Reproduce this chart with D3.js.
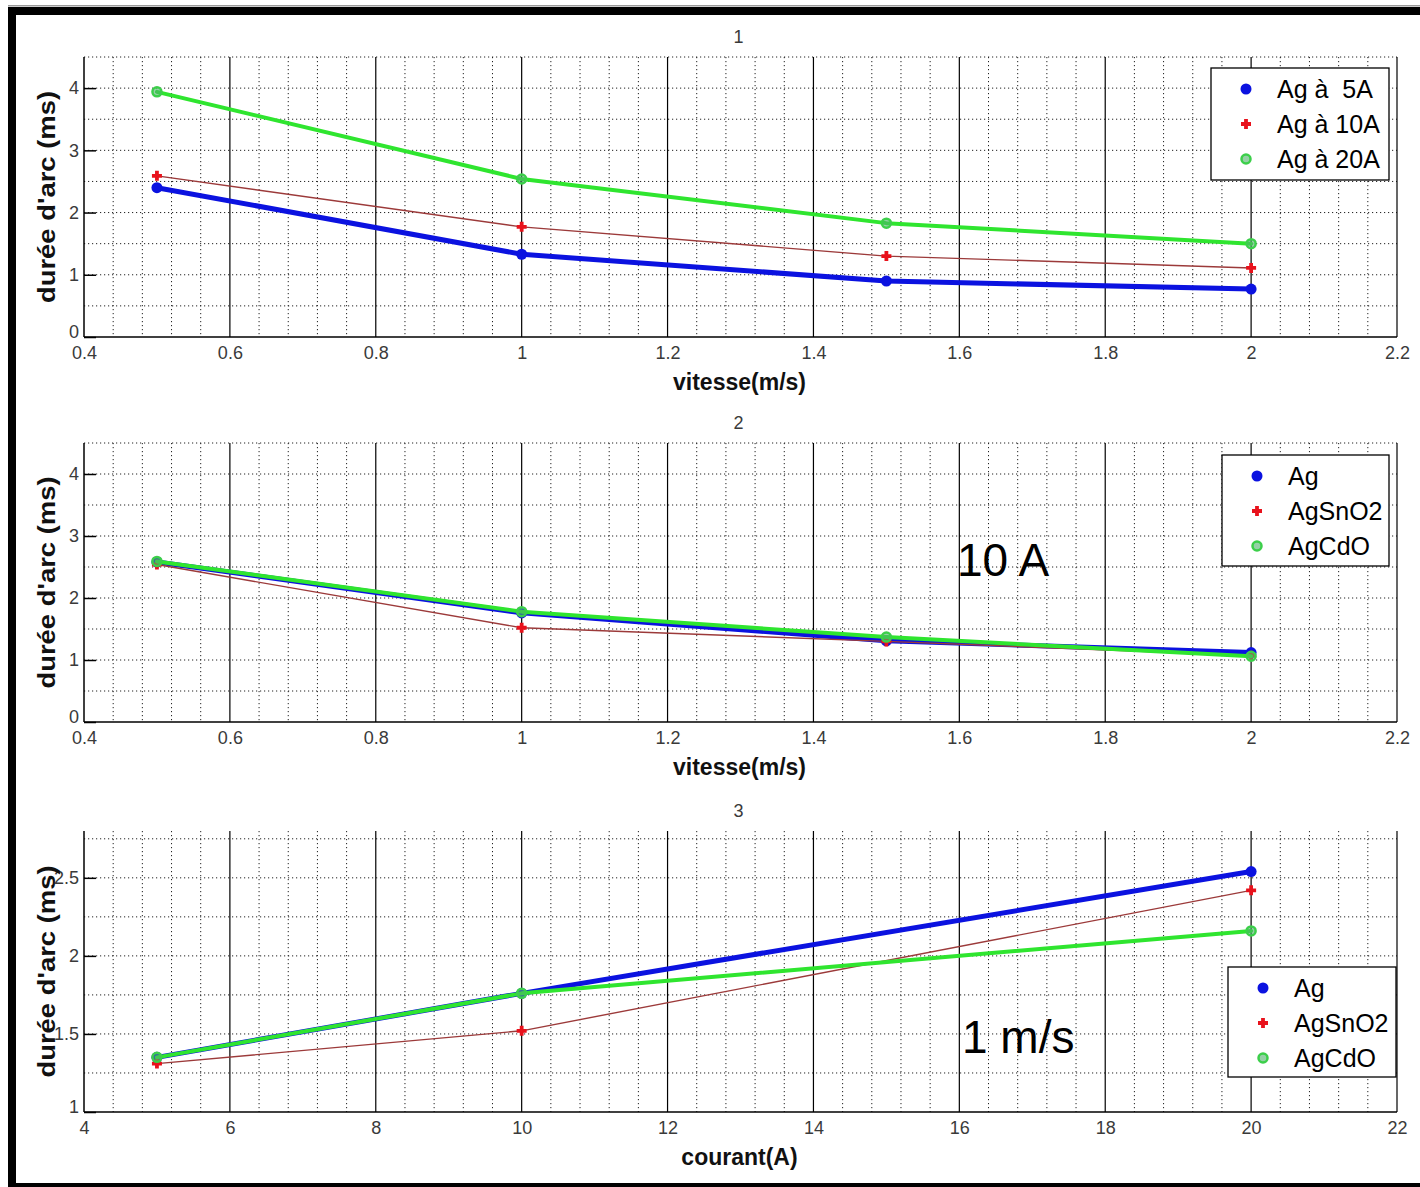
<!DOCTYPE html>
<html>
<head>
<meta charset="utf-8">
<script src="https://cdn.jsdelivr.net/npm/d3@7"></script>
<style>
  body { margin: 0; background: #fff; }
  svg { display: block; }
</style>
</head>
<body>
<svg id="fig" width="1420" height="1187"></svg>
<script>
// ---- measured arc durations (ms) ----
const speed   = [0.5, 1, 1.5, 2];        // m/s
const current = [5, 10, 20];             // A

// panel 1 : silver at three currents, versus speed
const agAt5A  = [2.40, 1.33, 0.90, 0.77];
const agAt10A = [2.59, 1.77, 1.30, 1.11];
const agAt20A = [3.94, 2.54, 1.83, 1.50];

// panel 2 : three contact materials at 10 A, versus speed
const agBySpeed     = [2.58, 1.76, 1.31, 1.12];
const agSnO2BySpeed = [2.54, 1.52, 1.30, 1.07];
const agCdOBySpeed  = [2.59, 1.78, 1.37, 1.06];

// panel 3 : three contact materials at 1 m/s, versus current
const agByCurrent     = [1.35, 1.76, 2.54];
const agSnO2ByCurrent = [1.31, 1.52, 2.42];
const agCdOByCurrent  = [1.35, 1.76, 2.16];

// ---- tick labels and texts ----
const speedTicks    = [0.4, 0.6, 0.8, 1, 1.2, 1.4, 1.6, 1.8, 2, 2.2];
const currentTicks  = [4, 6, 8, 10, 12, 14, 16, 18, 20, 22];
const durationTicks = [0, 1, 2, 3, 4];
const durationTicksFine = [1, 1.5, 2, 2.5];
const legendCurrents  = ["Ag à  5A", "Ag à 10A", "Ag à 20A"];
const legendMaterials = ["Ag", "AgSnO2", "AgCdO"];
const panelTitles = ["1", "2", "3"];
const xTitles = ["vitesse(m/s)", "vitesse(m/s)", "courant(A)"];
const yTitle = "durée d'arc (ms)";
const notes = ["", "10 A", "1 m/s"];

// ---- styling of the three series (blue, red, green) ----
const styles = [
  { line: "#0b12e0", width: 5,   marker: "dot",  mcolor: "#0b12e0" },
  { line: "#9c3a3a", width: 1.4, marker: "plus", mcolor: "#e8121c" },
  { line: "#2fe52f", width: 4,   marker: "ring", mcolor: "#3ccf4a" }
];

const svg = d3.select("#fig");
const FONT = "'Liberation Sans', Arial, Helvetica, sans-serif";

// outer black frame
svg.append("rect").attr("x", 8).attr("y", 5).attr("width", 1412).attr("height", 1.5).attr("fill", "#999");
svg.append("rect").attr("x", 8).attr("y", 7).attr("width", 1412).attr("height", 8).attr("fill", "#000");
svg.append("rect").attr("x", 8).attr("y", 7).attr("width", 8).attr("height", 1180).attr("fill", "#000");
svg.append("rect").attr("x", 8).attr("y", 1183).attr("width", 1412).attr("height", 4).attr("fill", "#000");

const panels = [
  { top: 57, bottom: 337, xDomain: [0.4, 2.2], yDomain: [0, 4.5],
    xTicks: speedTicks, yTicks: durationTicks, xMinor: 0.04, yMinor: 0.5,
    x: speed, series: [agAt5A, agAt10A, agAt20A], legend: legendCurrents,
    box: { x: 1211, y: 68, w: 178, h: 112 } },
  { top: 443, bottom: 722, xDomain: [0.4, 2.2], yDomain: [0, 4.5],
    xTicks: speedTicks, yTicks: durationTicks, xMinor: 0.04, yMinor: 0.5,
    x: speed, series: [agBySpeed, agSnO2BySpeed, agCdOBySpeed], legend: legendMaterials,
    box: { x: 1222, y: 455, w: 167, h: 111 }, note: { x: 957, y: 560 } },
  { top: 831, bottom: 1112, xDomain: [4, 22], yDomain: [1, 2.8],
    xTicks: currentTicks, yTicks: durationTicksFine, xMinor: 0.4, yMinor: 0.25,
    x: current, series: [agByCurrent, agSnO2ByCurrent, agCdOByCurrent], legend: legendMaterials,
    box: { x: 1228, y: 967, w: 168, h: 110 }, note: { x: 962, y: 1037 } }
];

const left = 84, right = 1397;
const fmt = d3.format("~g");

function drawMarker(g, kind, color, cx, cy) {
  if (kind === "dot") {
    g.append("circle").attr("cx", cx).attr("cy", cy).attr("r", 5.5).attr("fill", color);
  } else if (kind === "plus") {
    g.append("path")
      .attr("d", `M${cx - 5},${cy}H${cx + 5}M${cx},${cy - 5}V${cy + 5}`)
      .attr("stroke", color).attr("stroke-width", 3.8).attr("fill", "none");
  } else {
    g.append("circle").attr("cx", cx).attr("cy", cy).attr("r", 4.5)
      .attr("fill", "#4fb06a").attr("fill-opacity", 0.6)
      .attr("stroke", color).attr("stroke-width", 2.5);
  }
}

panels.forEach((p, k) => {
  const g = svg.append("g");
  const x = d3.scaleLinear().domain(p.xDomain).range([left, right]);
  const y = d3.scaleLinear().domain(p.yDomain).range([p.bottom, p.top]);

  const near = (a, arr) => arr.some(b => Math.abs(a - b) < 1e-6);
  const xMinor = d3.range(p.xDomain[0], p.xDomain[1] + 1e-9, p.xMinor).map(v => +v.toFixed(6));
  const yMinor = d3.range(p.yDomain[0], p.yDomain[1] + 1e-9, p.yMinor).map(v => +v.toFixed(6));

  // dotted horizontal grid (every minor step, top edge included)
  g.selectAll(".hgrid").data(yMinor.filter(v => v > p.yDomain[0])).join("line")
    .attr("x1", left).attr("x2", right)
    .attr("y1", d => y(d)).attr("y2", d => y(d))
    .attr("stroke", "#222").attr("stroke-width", 1).attr("stroke-dasharray", "1.2,2.8");

  // dotted vertical minor grid
  g.selectAll(".vminor").data(xMinor.filter(v => !near(v, p.xTicks))).join("line")
    .attr("x1", d => x(d)).attr("x2", d => x(d))
    .attr("y1", p.top).attr("y2", p.bottom)
    .attr("stroke", "#222").attr("stroke-width", 1).attr("stroke-dasharray", "1.2,2.8");

  // solid vertical major grid
  g.selectAll(".vmajor").data(p.xTicks.slice(1)).join("line")
    .attr("x1", d => x(d)).attr("x2", d => x(d))
    .attr("y1", p.top).attr("y2", p.bottom)
    .attr("stroke", "#000").attr("stroke-width", 1.2);

  // axis lines
  g.append("line").attr("x1", left).attr("x2", left).attr("y1", p.top).attr("y2", p.bottom)
    .attr("stroke", "#000").attr("stroke-width", 1.5);
  g.append("line").attr("x1", left).attr("x2", right).attr("y1", p.bottom).attr("y2", p.bottom)
    .attr("stroke", "#000").attr("stroke-width", 1.5);

  // tick labels through d3 axes
  const xa = g.append("g").attr("transform", `translate(0,${p.bottom})`)
    .call(d3.axisBottom(x).tickValues(p.xTicks).tickFormat(fmt).tickSize(0).tickPadding(9));
  const ya = g.append("g").attr("transform", `translate(${left},0)`)
    .call(d3.axisLeft(y).tickValues(p.yTicks).tickFormat(fmt).tickSizeInner(-12).tickSizeOuter(0).tickPadding(5));
  [xa, ya].forEach(a => {
    a.select(".domain").remove();
    a.selectAll("text").attr("font-family", FONT).attr("font-size", 18).attr("fill", "#3a3a3a");
    a.selectAll("line").attr("stroke", "#000").attr("stroke-width", 1.5);
  });
  // the lowest y label sits slightly raised, clear of the first x label
  ya.selectAll("text").filter(d => d === p.yDomain[0]).attr("dy", "0.05em");

  // series: lines then markers
  p.series.forEach((vals, i) => {
    const st = styles[i];
    const line = d3.line().x((d, j) => x(p.x[j])).y(d => y(d));
    g.append("path").datum(vals).attr("d", line)
      .attr("fill", "none").attr("stroke", st.line).attr("stroke-width", st.width)
      .attr("stroke-linejoin", "round").attr("stroke-linecap", "round");
    vals.forEach((v, j) => drawMarker(g, st.marker, st.mcolor, x(p.x[j]), y(v)));
  });

  // title
  g.append("text").attr("x", (left + right) / 2 - 2).attr("y", p.top - 20)
    .attr("text-anchor", "middle").attr("dominant-baseline", "central")
    .attr("font-family", FONT).attr("font-size", 18).attr("fill", "#3a3a3a")
    .text(panelTitles[k]);

  // axis titles
  g.append("text").attr("x", (left + right) / 2 - 1).attr("y", p.bottom + 45)
    .attr("text-anchor", "middle").attr("dominant-baseline", "central")
    .attr("font-family", FONT).attr("font-size", 23).attr("font-weight", "bold").attr("fill", "#111")
    .text(xTitles[k]);
  g.append("text")
    .attr("transform", `translate(46,${(p.top + p.bottom) / 2}) rotate(-90)`)
    .attr("text-anchor", "middle").attr("dominant-baseline", "central")
    .attr("font-family", FONT).attr("font-size", 24).attr("font-weight", "bold").attr("fill", "#111")
    .attr("textLength", 212).attr("lengthAdjust", "spacingAndGlyphs")
    .text(yTitle);

  // legend
  const b = p.box;
  g.append("rect").attr("x", b.x).attr("y", b.y).attr("width", b.w).attr("height", b.h)
    .attr("fill", "#fff").attr("stroke", "#000").attr("stroke-width", 1.3);
  p.legend.forEach((label, i) => {
    const cy = b.y + 21 + i * 35;
    drawMarker(g, styles[i].marker, styles[i].mcolor, b.x + 35, cy);
    g.append("text").attr("x", b.x + 66).attr("y", cy)
      .attr("dominant-baseline", "central").attr("xml:space", "preserve")
      .style("white-space", "pre")
      .attr("font-family", FONT).attr("font-size", 25).attr("fill", "#000")
      .text(label);
  });

  // condition annotation
  if (p.note) {
    g.append("text").attr("x", p.note.x).attr("y", p.note.y)
      .attr("dominant-baseline", "central")
      .attr("font-family", FONT).attr("font-size", 46).attr("fill", "#000")
      .text(notes[k]);
  }
});
</script>
</body>
</html>
